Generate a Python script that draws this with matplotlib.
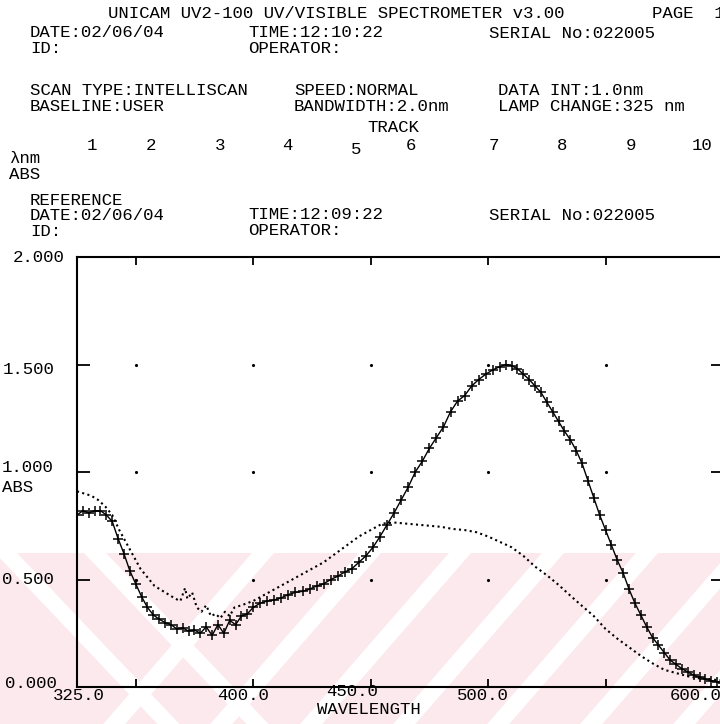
import matplotlib
matplotlib.use("Agg")
import matplotlib.pyplot as plt
import numpy as np
from matplotlib.patches import Polygon, Rectangle

# sample scan (line with crosses)
sample_nm = [325, 327.5, 330, 332.5, 335, 337.5, 340, 342.5, 345, 347.5, 350, 352.5, 355, 357.5,
             360, 362.5, 365, 367.5, 370, 372.5, 375, 377.5, 380, 382.5, 385, 387.5, 390, 392.5,
             395, 397.5, 400, 403, 406, 409, 412, 415, 418, 421, 424, 427, 430, 433, 436, 439,
             442, 445, 448, 451, 454, 457, 460, 463, 466, 469, 472, 475, 478, 481, 484, 487,
             490, 493, 496, 499, 502, 505, 507.5, 510, 512.5, 515, 517.5, 520, 522.5, 525, 527.5,
             530, 532.5, 535, 537.5, 540, 542.5, 545, 547.5, 550, 552.5, 555, 557.5, 560, 562.5,
             565, 567.5, 570, 572.5, 575, 577.5, 580, 582.5, 585, 587.5, 590, 592.5, 595, 597.5, 600]
sample_abs = [0.80, 0.82, 0.81, 0.82, 0.82, 0.80, 0.77, 0.69, 0.62, 0.54, 0.48, 0.42, 0.37, 0.335,
              0.315, 0.30, 0.29, 0.27, 0.275, 0.26, 0.265, 0.25, 0.28, 0.24, 0.29, 0.25, 0.31, 0.29,
              0.33, 0.34, 0.37, 0.39, 0.40, 0.405, 0.415, 0.43, 0.44, 0.445, 0.455, 0.47, 0.48, 0.50, 0.515, 0.535,
              0.55, 0.58, 0.61, 0.65, 0.70, 0.755, 0.81, 0.87, 0.93, 1.00, 1.05, 1.11, 1.16, 1.21, 1.28, 1.33,
              1.355, 1.40, 1.43, 1.455, 1.475, 1.49, 1.50, 1.495, 1.48, 1.455, 1.43, 1.40, 1.37, 1.325, 1.28,
              1.235, 1.19, 1.15, 1.10, 1.04, 0.96, 0.88, 0.80, 0.73, 0.66, 0.59, 0.53, 0.455, 0.39,
              0.335, 0.28, 0.23, 0.195, 0.16, 0.125, 0.105, 0.085, 0.07, 0.055, 0.045, 0.037, 0.03, 0.025, 0.02]

# reference scan (dotted)
ref_nm = [325, 328, 331, 334, 337, 340, 343, 346, 349, 352, 355, 358, 361, 364, 367, 369,
          371, 372, 374, 376, 378, 380, 382, 384, 386, 388, 390, 392, 395, 400, 405, 410,
          415, 420, 425, 430, 435, 440, 445, 450, 455, 460, 465, 470, 475, 480, 485, 490,
          495, 500, 505, 510, 515, 520, 525, 530, 535, 540, 545, 550, 555, 560, 565, 570,
          575, 580, 585, 590, 595, 600]
ref_abs = [0.91, 0.90, 0.89, 0.87, 0.84, 0.80, 0.73, 0.67, 0.61, 0.55, 0.51, 0.47, 0.45, 0.43, 0.41, 0.40,
           0.46, 0.41, 0.44, 0.37, 0.35, 0.38, 0.33, 0.34, 0.32, 0.35, 0.33, 0.37, 0.38, 0.40, 0.43, 0.46,
           0.49, 0.52, 0.55, 0.58, 0.62, 0.66, 0.70, 0.73, 0.76, 0.765, 0.76, 0.755, 0.75, 0.745, 0.735, 0.73,
           0.72, 0.70, 0.675, 0.65, 0.61, 0.56, 0.52, 0.475, 0.425, 0.377, 0.33, 0.27, 0.225, 0.185, 0.145, 0.11,
           0.08, 0.065, 0.05, 0.04, 0.035, 0.03]

x_ticks = [350, 400, 450, 500, 550]
y_ticks = [0.5, 1.0, 1.5]
track_numbers = ["1", "2", "3", "4", "5", "6", "7", "8", "9", "10"]

W, H = 720, 724
plt.rcParams["font.family"] = ["Liberation Mono", "DejaVu Sans"]

fig = plt.figure(figsize=(W / 100, H / 100), dpi=100)

# pink watermark band behind the plot, in pixel coordinates
bg = fig.add_axes([0, 0, 1, 1], zorder=-5)
bg.set_xlim(0, W)
bg.set_ylim(H, 0)
bg.axis("off")
bg.add_patch(Rectangle((0, 553), W, H - 553, color="#fce9ed", lw=0))
for x0 in [263, 370, 460, 553, 647, 740, 833]:
    pts = [(x0 - 11, 553), (x0 + 11, 553), (x0 + 11 - 0.87 * 171, H), (x0 - 11 - 0.87 * 171, H)]
    bg.add_patch(Polygon(pts, closed=True, color="white", lw=0))
for x0 in [6, 95]:
    pts = [(x0 - 11, 553), (x0 + 11, 553), (x0 + 11 + 0.95 * 171, H), (x0 - 11 + 0.95 * 171, H)]
    bg.add_patch(Polygon(pts, closed=True, color="white", lw=0))


def put(x, y, s, size=12.5, **kw):
    fig.text(x / W, 1 - y / H, s, fontsize=size, va="center", ha=kw.pop("ha", "left"),
             linespacing=1.05, **kw)


# header block (stacked lines kept in one text, as printed)
put(108, 13, "UNICAM UV2-100 UV/VISIBLE SPECTROMETER v3.00")
put(652, 13, "PAGE  1")
put(30, 40.5, "DATE:02/06/04\nID:")
put(248, 40.5, "TIME:12:10:22\nOPERATOR:")
put(489, 34, "SERIAL No:022005")
put(30, 98.5, "SCAN TYPE:INTELLISCAN\nBASELINE:USER")
put(294, 98.5, "SPEED:NORMAL\nBANDWIDTH:2.0nm")
put(498, 98.5, "DATA INT:1.0nm\nLAMP CHANGE:325 nm")
put(367, 127, "TRACK")
for xp, lab in zip([92, 151, 220, 287, 356, 411, 494, 562, 631, 702], track_numbers):
    put(xp, 149 if lab == "5" else 145, lab, ha="center")
put(9, 166.5, "λnm\nABS")
put(30, 216, "REFERENCE\nDATE:02/06/04\nID:")
put(248, 222.5, "TIME:12:09:22\nOPERATOR:")
put(489, 216, "SERIAL No:022005")

# axis labels, placed as on the printout
put(13, 258, "2.000")
put(3, 370, "1.500")
put(2, 467, "1.000")
put(2, 487, "ABS")
put(2, 580, "0.500")
put(5, 683, "0.000")
put(79, 696, "325.0", ha="center")
put(243, 696, "400.0", ha="center")
put(352, 691, "450.0", ha="center")
put(483, 696, "500.0", ha="center")
put(670, 696, "600.0")
put(317, 709, "WAVELENGTH")

left, right, top, bottom = 77, 723, 257, 687
ax = fig.add_axes([left / W, 1 - bottom / H, (right - left) / W, (bottom - top) / H])
ax.set_facecolor("none")
ax.set_xlim(325, 600)
ax.set_ylim(0, 2)

gx, gy = np.meshgrid(x_ticks, y_ticks)
ax.plot(gx.ravel(), gy.ravel(), ".", color="black", ms=2.5)

ax.plot(ref_nm, ref_abs, color="black", lw=1.5, ls=(0, (1, 1.6)))
ax.plot(sample_nm, sample_abs, color="black", lw=1.0, marker="+", ms=7, mew=1.1)

ax.set_xticks(x_ticks)
ax.set_yticks(y_ticks)
ax.tick_params(axis="x", direction="in", length=6, width=1.3, top=True,
               labelbottom=False)
ax.tick_params(axis="y", direction="in", length=9, width=1.3, right=True,
               labelleft=False)
for sp in ax.spines.values():
    sp.set_linewidth(1.5)

fig.savefig("out.png", dpi=100)
